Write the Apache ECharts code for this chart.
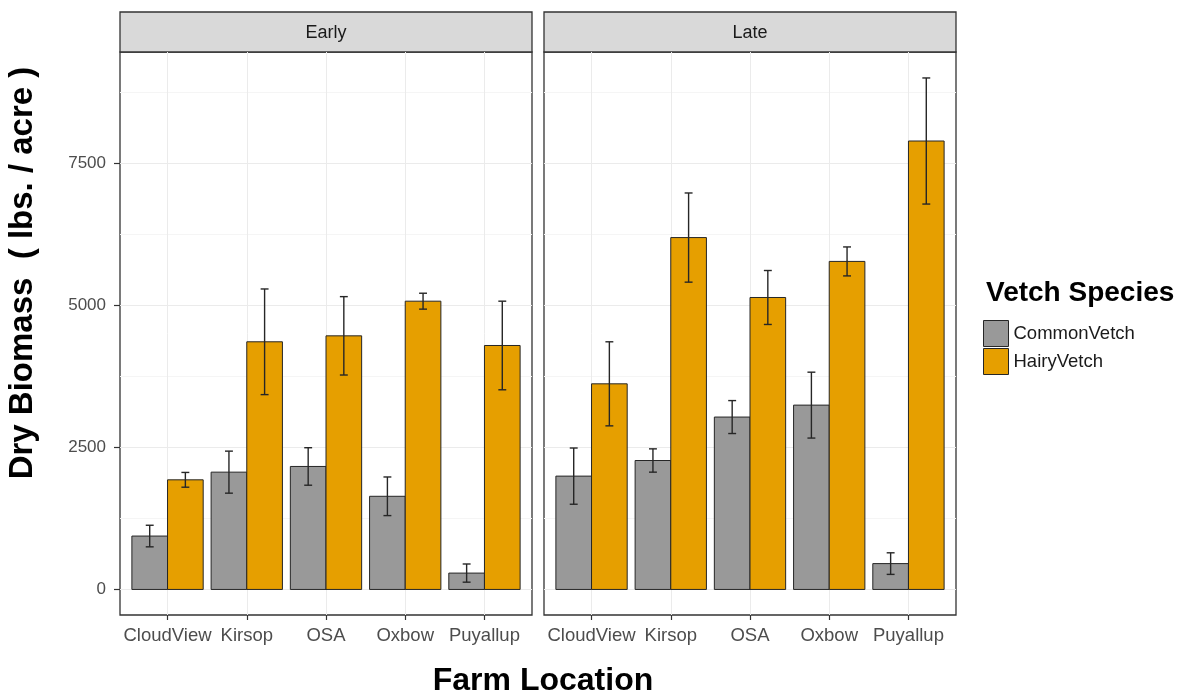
<!DOCTYPE html>
<html>
<head>
<meta charset="utf-8">
<script src="https://cdn.jsdelivr.net/npm/echarts@6/dist/echarts.min.js"></script>
<style>
  html, body { margin: 0; padding: 0; background: #ffffff; }
  #chart { width: 1186px; height: 696px; }
</style>
</head>
<body>
<div id="chart"></div>
<script>
// Farm locations on the x axis, one facet per planting time
const locations = ['CloudView', 'Kirsop', 'OSA', 'Oxbow', 'Puyallup'];
const timings = ['Early', 'Late'];
const species = ['CommonVetch', 'HairyVetch'];
const yTicks = [0, 2500, 5000, 7500];
const yMinorTicks = [1250, 3750, 6250, 8750];

// Mean dry biomass (lbs. / acre) and standard error
const earlyCommonMean = [940, 2065, 2165, 1640, 288];
const earlyCommonErr  = [190, 370, 330, 340, 160];
const earlyHairyMean  = [1930, 4360, 4465, 5075, 4295];
const earlyHairyErr   = [130, 930, 690, 140, 780];
const lateCommonMean  = [1995, 2270, 3035, 3245, 455];
const lateCommonErr   = [495, 205, 290, 580, 190];
const lateHairyMean   = [3620, 6195, 5140, 5775, 7895];
const lateHairyErr    = [740, 785, 475, 255, 1110];

const speciesColors = { CommonVetch: '#999999', HairyVetch: '#E69F00' };

// Layout of the two facet panels
const FONT = '"Liberation Sans", Arial, Helvetica, sans-serif';
const PANEL_TOP = 52, PANEL_H = 563, PANEL_W = 412;
const PANEL_LEFT = [120, 544];
const STRIP_TOP = 12, STRIP_H = 40;
const Y_MIN = -450, Y_MAX = 9462;
const X_MIN = 0.4, X_MAX = 5.6;
const BAR_W = 0.45, CAP = 0.05;
const INK = '#262626';

const panelData = [
  { CommonVetch: [earlyCommonMean, earlyCommonErr], HairyVetch: [earlyHairyMean, earlyHairyErr] },
  { CommonVetch: [lateCommonMean, lateCommonErr],   HairyVetch: [lateHairyMean, lateHairyErr] }
];

function barRenderer(offset, color) {
  return function (params, api) {
    const x = api.value(0), mean = api.value(1), err = api.value(2);
    const a = api.coord([x + offset, mean]);
    const b = api.coord([x + offset + BAR_W, 0]);
    const c = x + offset + BAR_W / 2;
    const lo = api.coord([c, mean - err]);
    const hi = api.coord([c, mean + err]);
    const capL = api.coord([c - CAP, 0])[0];
    const capR = api.coord([c + CAP, 0])[0];
    const line = { stroke: INK, lineWidth: 1.4 };
    return {
      type: 'group',
      children: [
        { type: 'rect', shape: { x: a[0], y: a[1], width: b[0] - a[0], height: b[1] - a[1] },
          style: { fill: color, stroke: INK, lineWidth: 1 } },
        { type: 'line', shape: { x1: lo[0], y1: lo[1], x2: hi[0], y2: hi[1] }, style: line },
        { type: 'line', shape: { x1: capL, y1: lo[1], x2: capR, y2: lo[1] }, style: line },
        { type: 'line', shape: { x1: capL, y1: hi[1], x2: capR, y2: hi[1] }, style: line }
      ]
    };
  };
}

const grids = [], xAxes = [], yAxes = [], series = [], graphics = [];

timings.forEach((timing, p) => {
  grids.push({
    left: PANEL_LEFT[p], top: PANEL_TOP, width: PANEL_W, height: PANEL_H,
    show: true, borderColor: '#333333', borderWidth: 1.3, backgroundColor: 'transparent'
  });

  xAxes.push({
    type: 'value', gridIndex: p, min: X_MIN, max: X_MAX,
    axisLine: { show: false, onZero: false },
    axisTick: { show: true, customValues: [1, 2, 3, 4, 5], length: 5, lineStyle: { color: '#333333', width: 1.2 } },
    axisLabel: {
      customValues: [1, 2, 3, 4, 5], formatter: v => locations[Math.round(v) - 1],
      color: '#4d4d4d', fontSize: 18.5, fontFamily: FONT, margin: 11
    },
    splitLine: { show: true, lineStyle: { color: '#ebebeb', width: 1 } }
  });

  // minor horizontal grid
  yAxes.push({
    type: 'value', gridIndex: p, min: Y_MIN, max: Y_MAX, position: 'left',
    axisLine: { show: false, onZero: false },
    axisTick: { show: false, customValues: yMinorTicks },
    axisLabel: { show: false, customValues: yMinorTicks },
    splitLine: { show: true, lineStyle: { color: '#f5f5f5', width: 1 } }
  });
  // major horizontal grid with labels on the first panel
  yAxes.push({
    type: 'value', gridIndex: p, min: Y_MIN, max: Y_MAX, position: 'left',
    axisLine: { show: false, onZero: false },
    axisTick: { show: p === 0, customValues: yTicks, length: 6, lineStyle: { color: '#333333', width: 1.2 } },
    axisLabel: {
      show: p === 0, customValues: yTicks, formatter: v => String(v),
      color: '#4d4d4d', fontSize: 17, fontFamily: FONT, margin: 14
    },
    splitLine: { show: true, lineStyle: { color: '#ebebeb', width: 1 } }
  });

  species.forEach((sp, s) => {
    const [mean, err] = panelData[p][sp];
    series.push({
      type: 'custom', name: sp, xAxisIndex: p, yAxisIndex: 2 * p + 1,
      itemStyle: { color: speciesColors[sp], borderColor: INK },
      renderItem: barRenderer(s === 0 ? -BAR_W : 0, speciesColors[sp]),
      data: locations.map((_, i) => [i + 1, mean[i], err[i]]),
      z: 3
    });
  });

  // facet strip
  graphics.push({
    type: 'rect', x: PANEL_LEFT[p], y: STRIP_TOP,
    shape: { width: PANEL_W, height: STRIP_H },
    style: { fill: '#d9d9d9', stroke: '#333333', lineWidth: 1.3 }
  });
  graphics.push({
    type: 'text', x: PANEL_LEFT[p] + PANEL_W / 2, y: STRIP_TOP + STRIP_H / 2 + 1,
    style: { text: timing, fill: '#1a1a1a', fontSize: 18, fontFamily: FONT, align: 'center', verticalAlign: 'middle' }
  });
});

// axis titles and legend title
graphics.push({
  type: 'text', x: 543, y: 681,
  style: { text: 'Farm Location', fill: '#000000', fontSize: 32, fontWeight: 'bold', fontFamily: FONT,
           align: 'center', verticalAlign: 'middle' }
});
graphics.push({
  type: 'text', x: 23, y: 273, rotation: Math.PI / 2,
  style: { text: 'Dry Biomass  ( lbs. / acre )', fill: '#000000', fontSize: 33, fontWeight: 'bold', fontFamily: FONT,
           align: 'center', verticalAlign: 'middle' }
});
graphics.push({
  type: 'text', x: 986, y: 293,
  style: { text: 'Vetch Species', fill: '#000000', fontSize: 28, fontWeight: 'bold', fontFamily: FONT,
           align: 'left', verticalAlign: 'middle' }
});

const chart = echarts.init(document.getElementById('chart'), null, { renderer: 'canvas' });
chart.setOption({
  animation: false,
  backgroundColor: '#ffffff',
  textStyle: { fontFamily: FONT },
  grid: grids,
  xAxis: xAxes,
  yAxis: yAxes,
  legend: {
    data: species, orient: 'vertical', left: 983, top: 320, padding: 0,
    itemWidth: 25, itemHeight: 26, itemGap: 1, icon: 'rect',
    itemStyle: { borderColor: INK, borderWidth: 1 },
    textStyle: { fontSize: 18.5, color: '#1a1a1a', fontFamily: FONT },
    selectedMode: false
  },
  graphic: graphics,
  series: series
});
</script>
</body>
</html>
